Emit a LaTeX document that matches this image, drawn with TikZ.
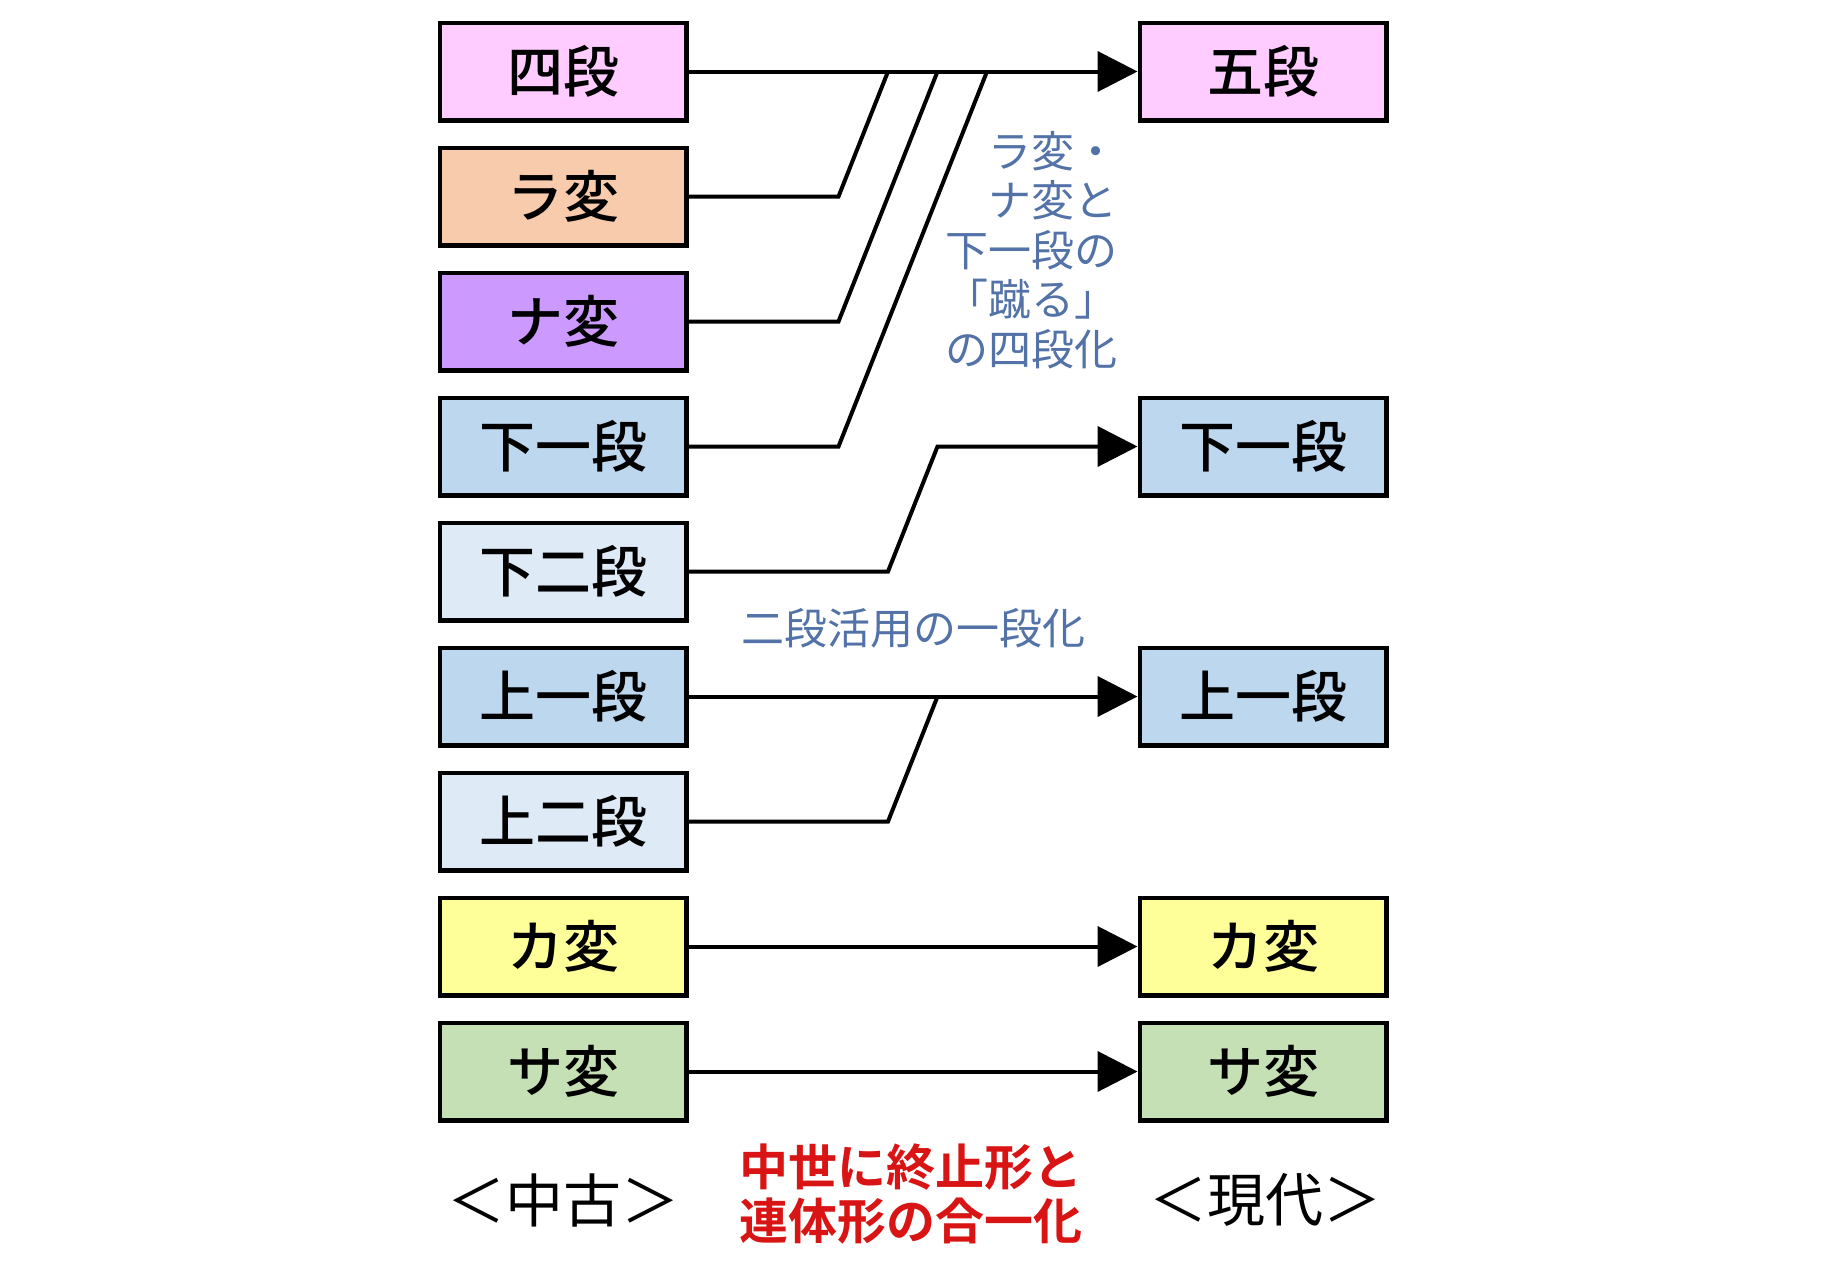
\documentclass[tikz,border=0pt]{standalone}
\usepackage{fontspec}
\newfontfamily\jp{Noto Sans CJK JP}[BoldFont={Noto Sans CJK JP Bold}]
\newfontfamily\jpm{Noto Sans CJK JP Medium}
\usetikzlibrary{arrows.meta}
\definecolor{cPink}{HTML}{FFCCFF}
\definecolor{cPeach}{HTML}{F8CBAD}
\definecolor{cPurple}{HTML}{CC99FF}
\definecolor{cBlue}{HTML}{BDD7EE}
\definecolor{cLBlue}{HTML}{DEEBF7}
\definecolor{cYellow}{HTML}{FFFF99}
\definecolor{cGreen}{HTML}{C5E0B4}
\definecolor{cText}{HTML}{5272A8}
\definecolor{cRed}{HTML}{D81414}
\begin{document}
\begin{tikzpicture}[x=1pt,y=-1pt,
  gbox/.style={draw=black,line width=4.5pt,minimum width=246.5pt,minimum height=97.5pt,inner sep=0pt,
    font=\jpm\fontsize{56}{60}\selectfont},
  conn/.style={line width=4pt,line join=miter},
  arr/.style={conn,-{Triangle[length=40pt,width=40pt]}},
  note/.style={text=cText,font=\jp\fontsize{43}{49.5}\selectfont,inner sep=0pt},
]
\useasboundingbox (0,0) rectangle (1823,1272);
% left column
\node[gbox,fill=cPink]   (lyo)  at (563,71.5)   {四段};
\node[gbox,fill=cPeach]  (lra)  at (563,196.5)  {ラ変};
\node[gbox,fill=cPurple] (lna)  at (563,321.5)  {ナ変};
\node[gbox,fill=cBlue]   (lsi)  at (563,446.5)  {下一段};
\node[gbox,fill=cLBlue]  (lsn)  at (563,571.5)  {下二段};
\node[gbox,fill=cBlue]   (lki)  at (563,696.5)  {上一段};
\node[gbox,fill=cLBlue]  (lkn)  at (563,821.5)  {上二段};
\node[gbox,fill=cYellow] (lka)  at (563,946.5)  {カ変};
\node[gbox,fill=cGreen]  (lsa)  at (563,1071.5) {サ変};
% right column
\node[gbox,fill=cPink]   (rgo)  at (1263,71.5)   {五段};
\node[gbox,fill=cBlue]   (rsi)  at (1263,446.5)  {下一段};
\node[gbox,fill=cBlue]   (rki)  at (1263,696.5)  {上一段};
\node[gbox,fill=cYellow] (rka)  at (1263,946.5)  {カ変};
\node[gbox,fill=cGreen]  (rsa)  at (1263,1071.5) {サ変};
% bend points
\coordinate (ra1) at (838.5,196.5);  \coordinate (ra2) at (888,71.5);
\coordinate (na1) at (838.5,321.5);  \coordinate (na2) at (937.5,71.5);
\coordinate (si1) at (838.5,446.5);  \coordinate (si2) at (987,71.5);
\coordinate (sn1) at (888,571.5);    \coordinate (sn2) at (937.5,446.5);
\coordinate (kn1) at (888,821.5);    \coordinate (kn2) at (937.5,696.5);
% connectors
\draw[arr] (lyo.east) -- (rgo.west);
\draw[conn] (lra.east) -- (ra1) -- (ra2);
\draw[conn] (lna.east) -- (na1) -- (na2);
\draw[conn] (lsi.east) -- (si1) -- (si2);
\draw[arr] (lsn.east) -- (sn1) -- (sn2) -- (rsi.west);
\draw[arr] (lki.east) -- (rki.west);
\draw[conn] (lkn.east) -- (kn1) -- (kn2);
\draw[arr] (lka.east) -- (rka.west);
\draw[arr] (lsa.east) -- (rsa.west);
% labels
\node[note,align=right,anchor=east] (n1) at (1118,250) {ラ変・\\ナ変と\\下一段の\\「蹴る」\\の四段化};
\node[note] (n2) at (913.5,628) {二段活用の一段化};
\node[text=cRed,align=center,inner sep=0pt,font=\jp\bfseries\fontsize{49}{54}\selectfont] (n3) at (911,1194) {中世に終止形と\\連体形の合一化};
\node[inner sep=0pt,font=\jp\fontsize{58}{60}\selectfont] (p1) at (563.5,1200) {＜中古＞};
\node[inner sep=0pt,font=\jp\fontsize{58}{60}\selectfont] (p2) at (1265.5,1200) {＜現代＞};
\end{tikzpicture}
\end{document}
